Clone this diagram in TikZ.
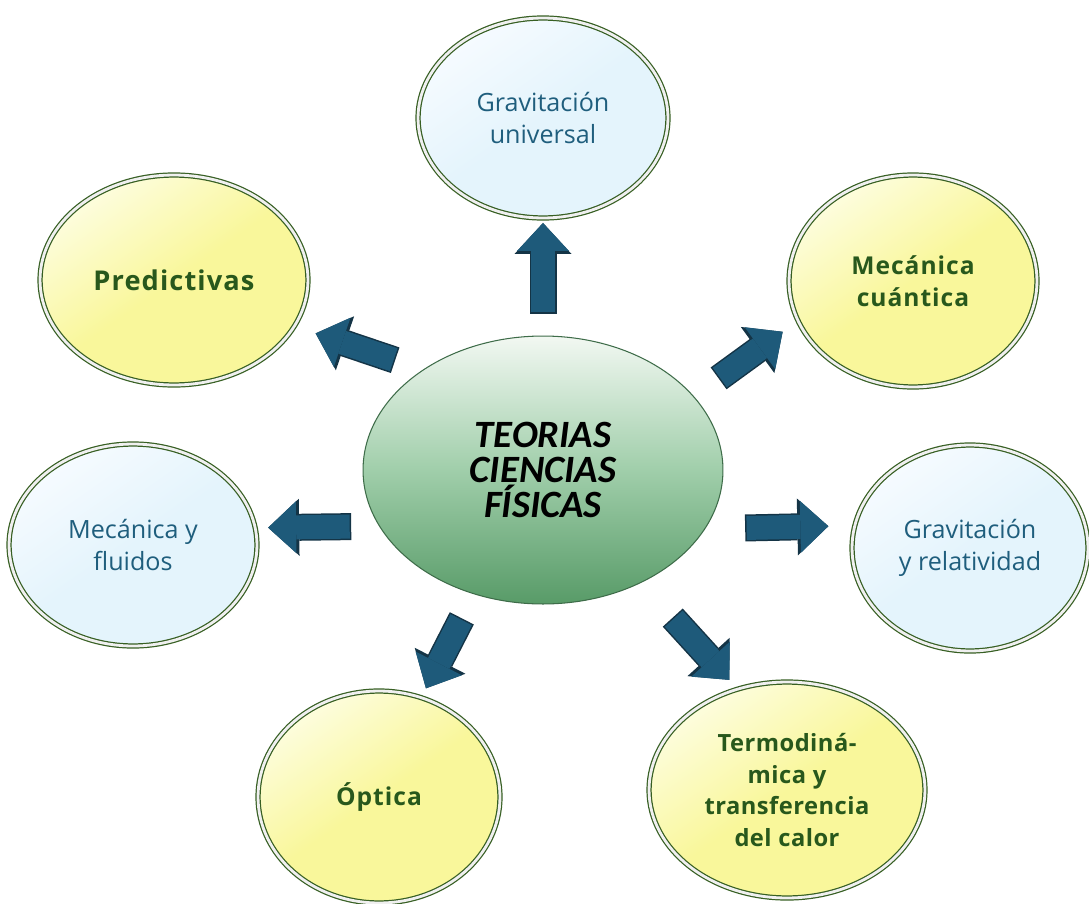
\documentclass[tikz,border=0pt]{standalone}
\usepackage{fontspec}
\setmainfont{Open Sans}
\newfontfamily\titlefont{Carlito}
\usetikzlibrary{shapes.geometric,arrows.meta}

\definecolor{ringgreen}{RGB}{55,95,35}
\definecolor{yfill}{RGB}{249,247,155}
\definecolor{ylight}{RGB}{253,253,222}
\definecolor{bfill}{RGB}{228,244,252}
\definecolor{blight}{RGB}{246,251,255}
\definecolor{bluetext}{RGB}{31,94,125}
\definecolor{greentext}{RGB}{40,88,28}
\definecolor{ctop}{RGB}{242,248,242}
\definecolor{cmid}{RGB}{160,206,170}
\definecolor{cbot}{RGB}{88,155,104}
\definecolor{arrowfill}{RGB}{30,90,122}
\definecolor{arrowline}{RGB}{20,52,70}

\begin{document}
\begin{tikzpicture}[x=0.02cm,y=-0.02cm,
   every node/.style={ellipse,outer sep=0pt,align=center},
   topic/.style={draw=ringgreen,line width=0.7pt,double=white!88!gray,double distance=1.6pt},
   yellowtopic/.style={topic,top color=ylight,bottom color=yfill,middle color=yfill,shading angle=35,
      text=greentext,font=\bfseries\fontsize{14}{18}\selectfont\addfontfeatures{LetterSpace=4}},
   bluetopic/.style={topic,top color=blight,bottom color=bfill,middle color=bfill,shading angle=35,
      text=bluetext,font=\fontsize{14.3}{18}\selectfont},
   centre/.style={draw=cbot!70!black,line width=0.6pt,top color=ctop,bottom color=cbot,middle color=cmid,
      font=\titlefont\bfseries\itshape\fontsize{22}{20}\selectfont},
   bigarrow/.style 2 args={draw=arrowfill,line width=0.48cm,shorten <=#1,shorten >=#2,
      -{Triangle[width=1.04cm,length=0.56cm,line width=0pt]},
      preaction={draw=arrowline,line width=0.54cm,shorten <=#1-0.03cm,
         -{Triangle[width=1.14cm,length=0.62cm,line width=0pt]}}}]

\useasboundingbox (0,0) rectangle (1089,903);

\node[centre,minimum width=7.2cm,minimum height=5.36cm] (c) at (543,470) {TEORIAS\\CIENCIAS\\FÍSICAS};

\node[bluetopic,minimum width=5cm,minimum height=4cm] (gu) at (543,118) {Gravitación\\universal};
\node[yellowtopic,minimum width=5.36cm,minimum height=4.2cm,
      font=\bfseries\fontsize{15.5}{18}\selectfont\addfontfeatures{LetterSpace=4}] (pr) at (174,280) {Predictivas};
\node[yellowtopic,minimum width=4.96cm,minimum height=4.24cm] (mq) at (913,281) {Mecánica\\cuántica};
\node[bluetopic,minimum width=4.96cm,minimum height=4.04cm] (mf) at (133,545) {Mecánica y\\fluidos};
\node[bluetopic,minimum width=4.72cm,minimum height=4.12cm] (gr) at (970,548) {Gravitación\\y relatividad};
\node[yellowtopic,minimum width=4.84cm,minimum height=4.24cm] (op) at (379,797) {Óptica};
\node[yellowtopic,minimum width=5.52cm,minimum height=4.32cm,
      font=\bfseries\fontsize{13.5}{18}\selectfont\addfontfeatures{LetterSpace=2}] (td) at (787,790) {Termodiná-\\mica y\\transferencia\\del calor};

\draw[bigarrow={0.48cm}{0.1cm}] (c.90) -- (gu.270);
\draw[bigarrow={0.63cm}{0.45cm}] (c.140.4) -- (pr.339.3);
\draw[bigarrow={0.65cm}{0.38cm}] (c.26.6) -- (mq.199.8);
\draw[bigarrow={0.6cm}{0.26cm}] (c.199.3) -- (mf.8.4);
\draw[bigarrow={0.84cm}{0.53cm}] (c.340.7) -- (gr.169.7);
\draw[bigarrow={0.58cm}{0.21cm}] (c.241.7) -- (op.67.7);
\draw[bigarrow={0.98cm}{0.25cm}] (c.311.3) -- (td.116.7);

\end{tikzpicture}
\end{document}
